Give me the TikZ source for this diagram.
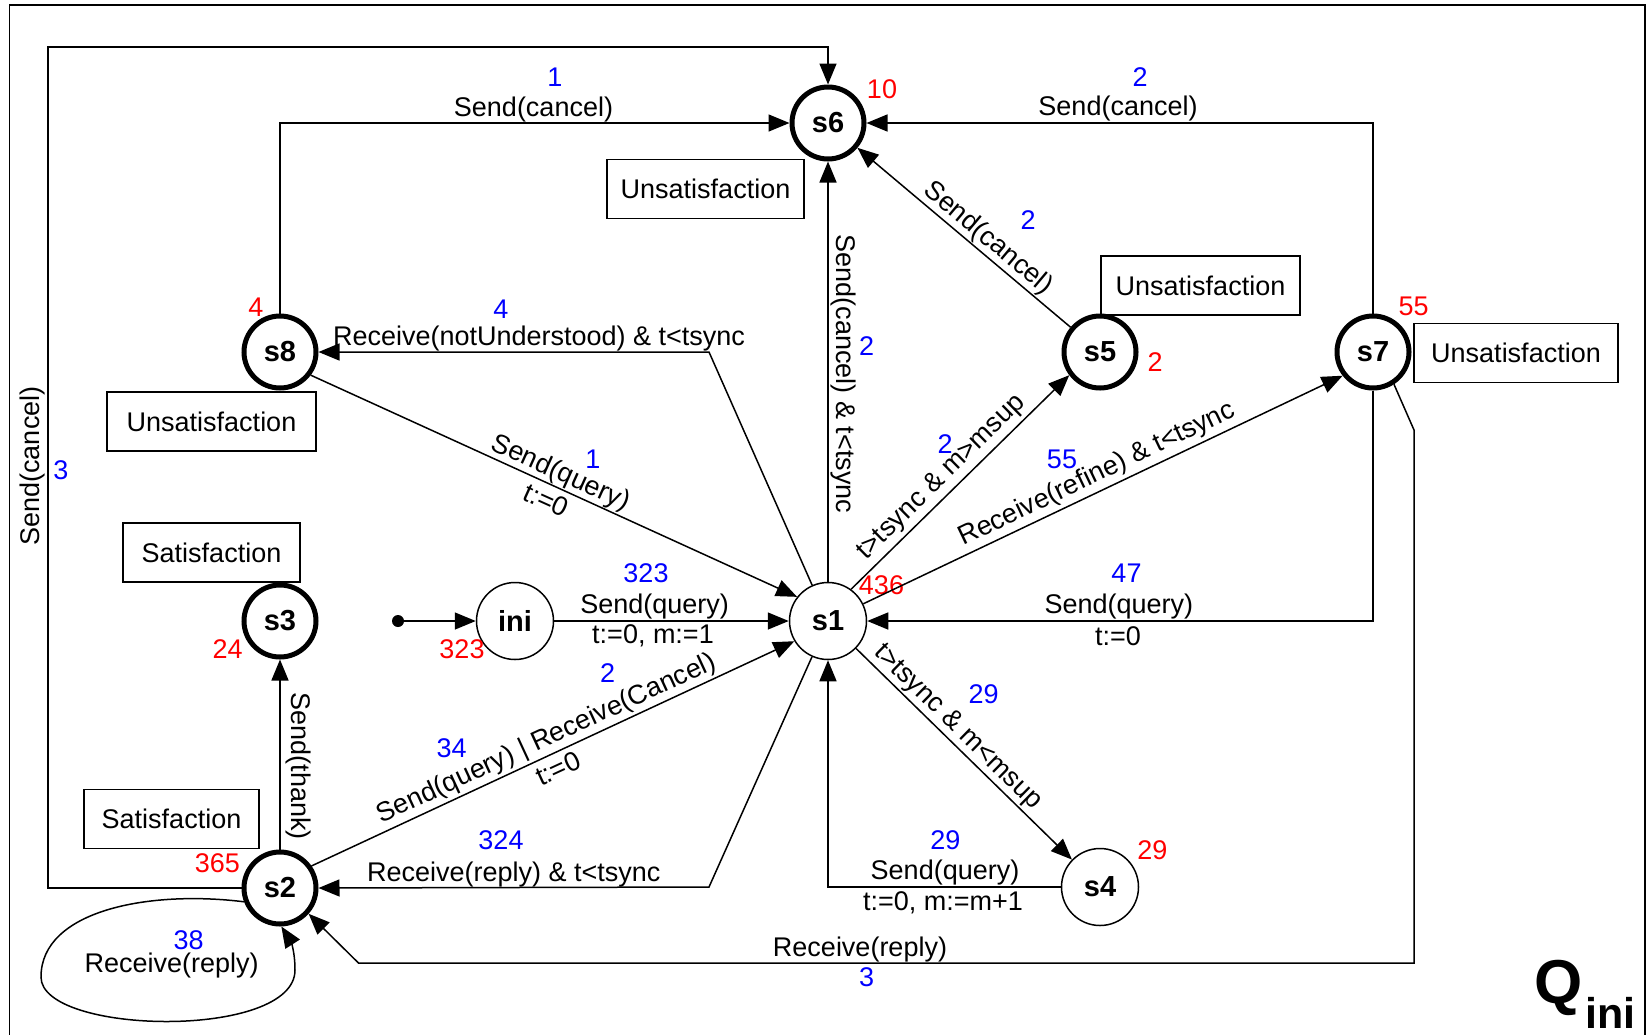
\documentclass[tikz,border=0pt]{standalone}
\usepackage{fontspec}
\setmainfont{Liberation Sans}
\usetikzlibrary{arrows.meta}
\begin{document}
\begin{tikzpicture}[x=0.5pt,y=-0.5pt,
  every node/.style={font=\fontsize{13.5}{16}\selectfont, inner sep=0pt},
  cnt/.style={text=red},
  hits/.style={text=blue},
  state/.style={circle, draw, line width=2.5pt, minimum size=36pt,
    font=\fontsize{14.5}{17}\selectfont\bfseries},
  plain/.style={circle, draw, line width=0.75pt, minimum size=38.5pt,
    font=\fontsize{14.5}{17}\selectfont\bfseries},
  tag/.style={draw, line width=0.8pt, minimum height=29.5pt},
  edge/.style={line width=0.75pt, -{Triangle[length=10.5pt,width=8.5pt]}},
]
\useasboundingbox (0,0) rectangle (1649,1034);

% outer frame
\draw[line width=0.8pt] (9.5,1040) -- (9.5,5) -- (1645,5) -- (1645,1040);

% states
\node[state] (s6) at (828,123) {s6};
\node[state] (s8) at (280,352) {s8};
\node[state] (s5) at (1100,352) {s5};
\node[state] (s7) at (1373,352) {s7};
\node[state] (s3) at (280,621) {s3};
\node[state] (s2) at (280,888) {s2};
\node[plain] (ini) at (515,621) {ini};
\node[plain] (s1) at (828,621) {s1};
\node[plain] (s4) at (1100,887) {s4};
\node[circle, fill, minimum size=6pt] (start) at (398,621) {};

% state tags
\node[tag, minimum width=98.5pt] (t6) at (705.5,189) {Unsatisfaction};
\node[tag, minimum width=104.5pt] (t8) at (211.5,421.5) {Unsatisfaction};
\node[tag, minimum width=99.5pt] (t5) at (1200.5,285.5) {Unsatisfaction};
\node[tag, minimum width=102pt] (t7) at (1516,353) {Unsatisfaction};
\node[tag, minimum width=88.5pt] (t3) at (211.5,552.5) {Satisfaction};
\node[tag, minimum width=87.5pt] (t2) at (171.5,819) {Satisfaction};

% visit counts
\node[cnt] (c6) at (882,89) {10};
\node[cnt] (c8) at (256,307) {4};
\node[cnt] (c5) at (1155,362) {2};
\node[cnt] (c7) at (1413.6,306.5) {55};
\node[cnt] (c3) at (227.7,649) {24};
\node[cnt] (cini) at (462,649.5) {323};
\node[cnt] (c1) at (881.5,585) {436};
\node[cnt] (c4) at (1152.4,850) {29};
\node[cnt] (c2) at (217.4,863.5) {365};

% transitions
\coordinate (k1) at (48,888);
\coordinate (k2) at (48,47);
\coordinate (k3) at (828,47);
\draw[edge] (s2.west) -- (k1) -- (k2) -- (k3) -- (s6.north);
\draw[edge] (s8.north) |- (s6.west);
\draw[edge] (s7.north) |- (s6.east);
\draw[edge] (s5) -- (s6);
\draw[edge] (s1) -- (s6);
\coordinate (k6) at (709,352);
\draw[edge] (s1) -- (k6) -- (s8.east);
\draw[edge] (s8.-37) -- (s1.142);
\draw[edge] (start) -- (ini);
\draw[edge] (ini) -- (s1);
\draw[edge] (s2.35) -- (s1.211);
\coordinate (k11) at (709,887);
\draw[edge] (s1) -- (k11) -- (s2.east);
\draw[edge] (s2.north) -- (s3.south);
\draw[edge] (s2.201) .. controls (150,890) and (41,910) .. (41,977)
  .. controls (41,1035) and (295,1040) .. (295,970)
  .. controls (295,950) and (290,940) .. (s2.-88);
\draw[edge] (s1.54) -- (s5.217);
\draw[edge] (s1.26) -- (s7.218);
\draw[edge] (s7.south) |- (s1.east);
\coordinate (k15a) at (1414,430);
\coordinate (k15b) at (1414,963);
\coordinate (k15c) at (358.5,963);
\draw[edge] (s7.-57) -- (k15a) -- (k15b) -- (k15c) -- (s2.-42);
\draw[edge] (s1) -- (s4);
\draw[edge] (s4.west) -| (s1.south);

% transition labels
\node[rotate=90] (l1) at (33,466) {Send(cancel)};
\node[hits] (n1) at (61,470.5) {3};
\node (l2) at (533.5,109.5) {Send(cancel)};
\node[hits] (n2) at (555,77) {1};
\node (l3) at (1118,109) {Send(cancel)};
\node[hits] (n3) at (1140,77) {2};
\node[rotate=-40] (l4) at (988,238.5) {Send(cancel)};
\node[hits] (n4) at (1028,220) {2};
\node[rotate=-90] (l5) at (843,374) {Send(cancel) \& t<tsync};
\node[hits] (n5) at (866.5,346) {2};
\node (l6) at (539,339) {Receive(notUnderstood) \& t<tsync};
\node[hits] (n6) at (501,309) {4};
\node[rotate=-24.3] (l7) at (560.4,473.5) {Send(query)};
\node[rotate=-24.3] (l7b) at (546,500) {t:=0};
\node[hits] (n7) at (593,459) {1};
\node (l8) at (654.7,607) {Send(query)};
\node (l8b) at (653,636) {t:=0, m:=1};
\node[hits] (n8) at (646,573) {323};
\node[rotate=-90] (l9) at (298,766) {Send(thank)};
\node[rotate=24.8] (l10) at (546.5,739.3) {Send(query) | Receive(Cancel)};
\node[rotate=24.8] (l10b) at (558,768.3) {t:=0};
\node[hits] (n10a) at (451.6,748.3) {34};
\node[hits] (n10b) at (607.6,672.8) {2};
\node (l11) at (513.8,874.5) {Receive(reply) \& t<tsync};
\node[hits] (n11) at (501,840) {324};
\node (l12) at (171.7,966) {Receive(reply)};
\node[hits] (n12) at (188.7,940) {38};
\node (l13) at (860,950) {Receive(reply)};
\node[hits] (n13) at (866.5,977) {3};
\node (l14) at (1118.8,607) {Send(query)};
\node (l14b) at (1118,636) {t:=0};
\node[hits] (n14) at (1126.5,573.3) {47};
\node[rotate=-44.4] (l15) at (957.5,727.5) {t>tsync \& m<msup};
\node[hits] (n15) at (983.6,693.7) {29};
\node (l16) at (945,872.5) {Send(query)};
\node (l16b) at (943,903) {t:=0, m:=m+1};
\node[hits] (n16) at (945.3,840) {29};
\node[rotate=25.5] (l17) at (1097,474.5) {Receive(refine) \& t<tsync};
\node[hits] (n17) at (1062,459) {55};
\node[rotate=44.5] (l18) at (941.5,477.5) {t>tsync \& m>msup};
\node[hits] (n18) at (945,444) {2};

% automaton name
\node[anchor=base west, font=\fontsize{31}{37}\selectfont\bfseries] (q) at (1534,1003) {Q};
\node[anchor=base west, font=\fontsize{21.5}{26}\selectfont\bfseries] (qi) at (1585,1028) {ini};
\end{tikzpicture}
\end{document}
